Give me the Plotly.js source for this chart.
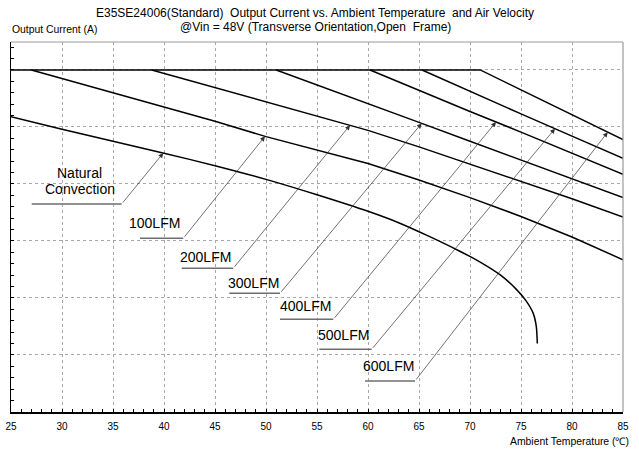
<!DOCTYPE html>
<html>
<head>
<meta charset="utf-8">
<script src="https://cdn.plot.ly/plotly-3.0.1.min.js"></script>
<style>html,body{margin:0;padding:0;background:#fff;}#chart{width:639px;height:450px;}</style>
</head>
<body>
<div id="chart"></div>
<script>
// ---- data ----
const seriesNames = ["Natural Convection", "100LFM", "200LFM", "300LFM", "400LFM", "500LFM", "600LFM"];
const tempNC   = [25, 30, 35, 40, 45, 50, 55, 60, 63, 66, 69, 71, 73, 74.5, 75.5, 76.2, 76.5, 76.6];
const currNC   = [5.18, 4.96, 4.75, 4.54, 4.32, 4.08, 3.81, 3.52, 3.32, 3.08, 2.82, 2.63, 2.40, 2.16, 1.95, 1.73, 1.50, 1.20];
const temp100  = [27, 30, 35, 40, 45, 50, 55, 60, 65, 70, 75, 80, 85];
const curr100  = [6, 5.85, 5.60, 5.35, 5.10, 4.83, 4.60, 4.36, 4.07, 3.76, 3.43, 3.07, 2.67];
const temp200  = [38.8, 45, 50, 55, 60, 65, 70, 75, 80, 85];
const curr200  = [6, 5.69, 5.44, 5.20, 4.94, 4.65, 4.35, 4.05, 3.74, 3.42];
const temp300  = [51, 55, 60, 65, 70, 75, 80, 85];
const curr300  = [6, 5.74, 5.41, 5.08, 4.75, 4.42, 4.09, 3.76];
const temp400  = [60.2, 65, 70, 75, 80, 85];
const curr400  = [6, 5.64, 5.27, 4.91, 4.54, 4.17];
const temp500  = [65.3, 70, 75, 80, 85];
const curr500  = [6, 5.62, 5.23, 4.84, 4.45];
const temp600  = [25, 71, 75, 80, 85];
const curr600  = [6, 6, 5.65, 5.21, 4.78];
const xTickVals = [25, 30, 35, 40, 45, 50, 55, 60, 65, 70, 75, 80, 85];
const xTickText = ["25", "30", "35", "40", "45", "50", "55", "60", "65", "70", "75", "80", "85"];
const titleLines = ["E35SE24006(Standard)\u00a0\u00a0Output Current vs. Ambient Temperature\u00a0\u00a0and Air Velocity",
                    "@Vin = 48V (Transverse Orientation,Open\u00a0\u00a0Frame)"];
const yTitle = "Output Current (A)";
const xTitle = "Ambient Temperature (\u2103)";

const xs = [tempNC, temp100, temp200, temp300, temp400, temp500, temp600];
const ys = [currNC, curr100, curr200, curr300, curr400, curr500, curr600];

// ---- label placement (layout, not data) ----
const labelCfg = [
  {lines: [["Natural", 31.76, 4.19], ["Convection", 31.76, 3.91]], ul: [27.03, 35.85, 3.649], tipX: 39.93},
  {lines: [["100LFM", 39.02, 3.31]], ul: [37.65, 41.89, 3.047], tipX: 49.9},
  {lines: [["200LFM", 44.10, 2.714]], ul: [41.74, 46.79, 2.521], tipX: 58.24},
  {lines: [["300LFM", 48.77, 2.268]], ul: [46.40, 51.37, 2.082], tipX: 65.26},
  {lines: [["400LFM", 53.90, 1.865]], ul: [51.37, 56.60, 1.626], tipX: 72.55},
  {lines: [["500LFM", 57.58, 1.342]], ul: [55.23, 60.36, 1.100], tipX: 78.33},
  {lines: [["600LFM", 62.01, 0.812]], ul: [59.71, 64.61, 0.544], tipX: 83.5}
];

function interp(xa, ya, x) {
  for (let i = 0; i < xa.length - 1; i++) {
    if (x >= xa[i] && x <= xa[i + 1]) {
      const t = (x - xa[i]) / (xa[i + 1] - xa[i]);
      return ya[i] + t * (ya[i + 1] - ya[i]);
    }
  }
  return ya[ya.length - 1];
}

const FONT = "Liberation Sans, Arial, Helvetica, sans-serif";

const traces = seriesNames.map((name, i) => ({
  type: "scatter", mode: "lines", name: name,
  x: xs[i], y: ys[i],
  line: {color: "#000", width: 1.5, shape: i === 0 ? "spline" : "linear", smoothing: 0.6},
  hoverinfo: "skip"
}));

const annotations = [];
const shapes = [];
labelCfg.forEach((c, i) => {
  c.lines.forEach(l => annotations.push({
    x: l[1], y: l[2], xref: "x", yref: "y", text: l[0], showarrow: false,
    font: {family: FONT, size: 14, color: "#000"}, xanchor: "center", yanchor: "middle"
  }));
  shapes.push({type: "line", xref: "x", yref: "y", x0: c.ul[0], x1: c.ul[1], y0: c.ul[2], y1: c.ul[2],
    line: {color: "#6e6e6e", width: 1.6}});
  const tipY = interp(xs[i], ys[i], c.tipX);
  annotations.push({
    x: c.tipX, y: tipY, xref: "x", yref: "y", ax: c.ul[1], ay: c.ul[2], axref: "x", ayref: "y",
    text: "", showarrow: true, arrowhead: 2, arrowsize: 1.4, arrowwidth: 0.7, arrowcolor: "#333", standoff: 0
  });
});

// top & right frame (gray)
shapes.push({type: "line", xref: "paper", yref: "paper", x0: 0, x1: 1, y0: 1, y1: 1, line: {color: "#9a9a9a", width: 1.2}});
shapes.push({type: "line", xref: "paper", yref: "paper", x0: 1, x1: 1, y0: 0, y1: 1, line: {color: "#9a9a9a", width: 1.2}});

// title lines
annotations.push({xref: "paper", yref: "paper", x: (315 - 11) / 612, y: 1, yshift: 29.5, text: titleLines[0],
  showarrow: false, xanchor: "center", yanchor: "middle", font: {family: FONT, size: 12, color: "#000"}});
annotations.push({xref: "paper", yref: "paper", x: (315 - 11) / 612, y: 1, yshift: 15.5, text: titleLines[1],
  showarrow: false, xanchor: "center", yanchor: "middle", font: {family: FONT, size: 12, color: "#000"}});
// axis titles
annotations.push({xref: "paper", yref: "paper", x: 0, y: 1, xshift: -1, yshift: 13, text: yTitle,
  showarrow: false, xanchor: "left", yanchor: "middle", font: {family: FONT, size: 10.4, color: "#000"}});
annotations.push({xref: "paper", yref: "paper", x: 1, y: 0, xshift: 8, yshift: -29, text: xTitle,
  showarrow: false, xanchor: "right", yanchor: "middle", font: {family: FONT, size: 10.4, color: "#000"}});

const layout = {
  width: 639, height: 450,
  margin: {l: 11, r: 16, t: 42, b: 38},
  paper_bgcolor: "#fff", plot_bgcolor: "#fff",
  showlegend: false,
  font: {family: FONT, color: "#000"},
  xaxis: {
    range: [25, 85], tickvals: xTickVals, ticktext: xTickText,
    ticks: "inside", ticklen: 3, tickcolor: "#000", tickwidth: 1,
    minor: {dtick: 1, ticks: "inside", ticklen: 3, tickcolor: "#000", showgrid: false},
    showline: true, linecolor: "#000", linewidth: 1.6,
    showgrid: true, gridcolor: "#a8a8a8", griddash: "dot", gridwidth: 1,
    zeroline: false, tickfont: {family: FONT, size: 10, color: "#000"},
    ticklabelstandoff: 4, fixedrange: true
  },
  yaxis: {
    range: [0, 6.49], dtick: 1, tick0: 0, showticklabels: false,
    ticks: "inside", ticklen: 3, tickcolor: "#000", tickwidth: 1,
    minor: {dtick: 0.2, ticks: "inside", ticklen: 3, tickcolor: "#000", showgrid: false},
    showline: true, linecolor: "#000", linewidth: 1.2,
    showgrid: true, gridcolor: "#a8a8a8", griddash: "dot", gridwidth: 1,
    zeroline: false, fixedrange: true
  },
  annotations: annotations,
  shapes: shapes
};

Plotly.newPlot("chart", traces, layout, {displayModeBar: false, staticPlot: true});
</script>
</body>
</html>
